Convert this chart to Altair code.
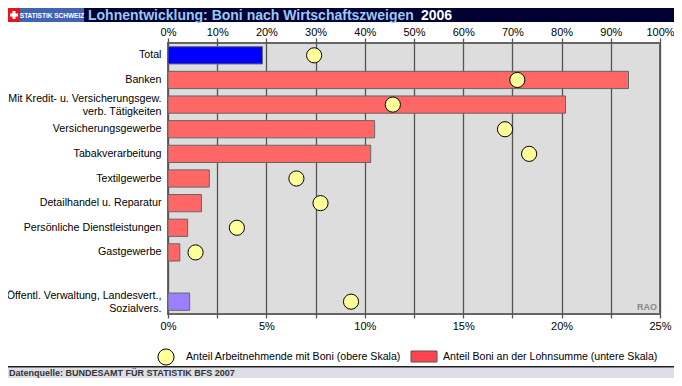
import altair as alt
import pandas as pd

# ---- data ----
categories = [
    "Total",
    "Banken",
    "Mit Kredit- u. Versicherungsgew.|verb. Tätigkeiten",
    "Versicherungsgewerbe",
    "Tabakverarbeitung",
    "Textilgewerbe",
    "Detailhandel u. Reparatur",
    "Persönliche Dienstleistungen",
    "Gastgewerbe",
    " ",
    "Öffentl. Verwaltung, Landesvert.,|Sozialvers.",
]
data_categories = [c for c in categories if c.strip()]
bonus_share_payroll = [4.8, 23.4, 20.2, 10.5, 10.3, 2.1, 1.7, 1.0, 0.6, 1.1]   # lower scale
employees_with_bonus = [29.7, 71.0, 45.7, 68.5, 73.4, 26.1, 31.0, 14.0, 5.6, 37.2]  # upper scale
lower_ticks = [0, 2.5, 5, 7.5, 10, 12.5, 15, 17.5, 20, 22.5, 25]
upper_ticks = [0, 10, 20, 30, 40, 50, 60, 70, 80, 90, 100]

df = pd.DataFrame({
    "category": data_categories,
    "payroll": bonus_share_payroll,
    "employees": employees_with_bonus,
})
df["group"] = ["total" if c == "Total" else ("public" if c.startswith("Öffentl") else "private")
               for c in df["category"]]

FONT = "Liberation Sans, Arial, sans-serif"
W, H = 492, 271
PADL, PADT, PADR, PADB = 160, 35, 14, 64
FULLW = PADL + W + PADR

yscale = alt.Scale(domain=categories, paddingInner=0.3, paddingOuter=0.15)
yaxis = alt.Axis(title=None, ticks=False, domain=False, labelPadding=7,
                 labelExpr="split(datum.label, '|')", labelLineHeight=13,
                 labelOffset={"condition": {"test": "indexof(datum.value, '|') >= 0", "value": -6},
                              "value": 0},
                 labelFontSize=10.7, labelLimit=220, labelColor="black")

bars = alt.Chart(df).mark_bar(stroke="#666666", strokeWidth=1).encode(
    y=alt.Y("category:N", scale=yscale, axis=yaxis, sort=categories),
    x=alt.X("payroll:Q", scale=alt.Scale(domain=[0, 25], nice=False, zero=True),
            axis=alt.Axis(orient="bottom", values=lower_ticks, title=None, grid=False,
                          labelExpr="datum.value % 5 == 0 ? datum.value + '%' : ''",
                          tickSize=4, tickWidth=1.3, tickColor="#555555", labelPadding=2,
                          labelFlush=False, labelOverlap=False, domain=False,
                          labelFontSize=11, labelColor="black")),
    color=alt.Color("group:N", legend=None,
                    scale=alt.Scale(domain=["total", "private", "public"],
                                    range=["#0000FF", "#FF6666", "#9A80FF"])),
)

points = alt.Chart(df).mark_point(shape="circle", filled=True, fill="#FFFF99", opacity=1,
                                  stroke="black", strokeWidth=1, size=230).encode(
    y=alt.Y("category:N", scale=yscale, axis=yaxis, sort=categories),
    x=alt.X("employees:Q", scale=alt.Scale(domain=[0, 100], nice=False),
            axis=alt.Axis(orient="top", values=upper_ticks, title=None, grid=True,
                          gridColor="#555555", gridWidth=1.3,
                          labelExpr="datum.value + '%'",
                          tickSize=5, tickWidth=1.3, tickColor="#555555", labelPadding=3,
                          labelBaseline="alphabetic",
                          labelFlush=False, labelOverlap=False, domain=False,
                          labelFontSize=11, labelColor="black")),
)

one = pd.DataFrame({"k": [1]})

def rect(x, x2, y, y2, color, **kw):
    return alt.Chart(one).mark_rect(color=color, **kw).encode(
        x=alt.value(x), x2=alt.value(x2), y=alt.value(y), y2=alt.value(y2))

def text(x, y, s, **kw):
    return alt.Chart(one).mark_text(**kw).encode(
        x=alt.value(x), y=alt.value(y), text=alt.value(s))

# header
HB = 14
header = rect(-PADL, FULLW - PADL, -PADT, -PADT + HB, "#000033")
logo_red = rect(-PADL, -PADL + 12, -PADT, -PADT + HB, "#E8141C")
cross_h = rect(-PADL + 2, -PADL + 10, -PADT + 5.5, -PADT + 8.5, "white")
cross_v = rect(-PADL + 4.5, -PADL + 7.5, -PADT + 3, -PADT + 11, "white")
logo_blue = rect(-PADL + 12, -PADL + 76, -PADT, -PADT + HB, "#4262B4")
logo_txt = text(-PADL + 44, -PADT + 7.5, "STATISTIK SCHWEIZ", color="white",
                font=FONT, fontSize=6.5, fontWeight="bold", align="center", baseline="middle")
title1 = text(-PADL + 80, -PADT + 7.5, "Lohnentwicklung: Boni nach Wirtschaftszweigen",
              color="#9CC8F5", font=FONT, fontSize=14, fontWeight="bold",
              align="left", baseline="middle")
title2 = text(-PADL + 413, -PADT + 7.5, "2006", color="white", font=FONT, fontSize=14,
              fontWeight="bold", align="left", baseline="middle")

# RAO mark
rao = text(W - 3, H - 7, "RAO", color="#888888", font=FONT, fontSize=9,
           fontWeight="bold", align="right", baseline="middle")

# legend
leg_circle = alt.Chart(one).mark_point(shape="circle", filled=True, fill="#FFFF99", opacity=1,
                                       stroke="black", strokeWidth=1, size=260).encode(
    x=alt.value(-2), y=alt.value(H + 43))
leg_t1 = text(18, H + 43, "Anteil Arbeitnehmende mit Boni (obere Skala)", color="black",
              font=FONT, fontSize=10.6, align="left", baseline="middle")
leg_rect = rect(243, 269, H + 37, H + 48, "#FF4450", stroke="#555555", strokeWidth=1)
leg_t2 = text(275, H + 43, "Anteil Boni an der Lohnsumme (untere Skala)", color="black",
              font=FONT, fontSize=10.6, align="left", baseline="middle")

# footer
footer = rect(-PADL, FULLW - PADL, H + 53, H + PADB, "#DEDEE6")
footer_line = rect(-PADL, FULLW - PADL, H + 52, H + 53.5, "#222222")
footer_txt = text(-PADL + 1, H + 59, "Datenquelle: BUNDESAMT FÜR STATISTIK BFS 2007",
                  color="#333333", font=FONT, fontSize=9, fontWeight="bold",
                  align="left", baseline="middle")

chart = alt.layer(
    bars, points,
    header, logo_red, cross_h, cross_v, logo_blue, logo_txt, title1, title2,
    rao, leg_circle, leg_t1, leg_rect, leg_t2, footer, footer_line, footer_txt,
).resolve_scale(x="independent").properties(
    width=W, height=H,
    autosize=alt.AutoSizeParams(type="none"),
    padding={"left": PADL, "top": PADT, "right": PADR, "bottom": PADB},
    background="white",
).configure_view(
    fill="#DDDDDD", stroke="#666666", strokeWidth=2,
).configure_axis(
    labelFont=FONT,
)

chart.save("out.html", embed_options={"renderer": "svg", "actions": False})
